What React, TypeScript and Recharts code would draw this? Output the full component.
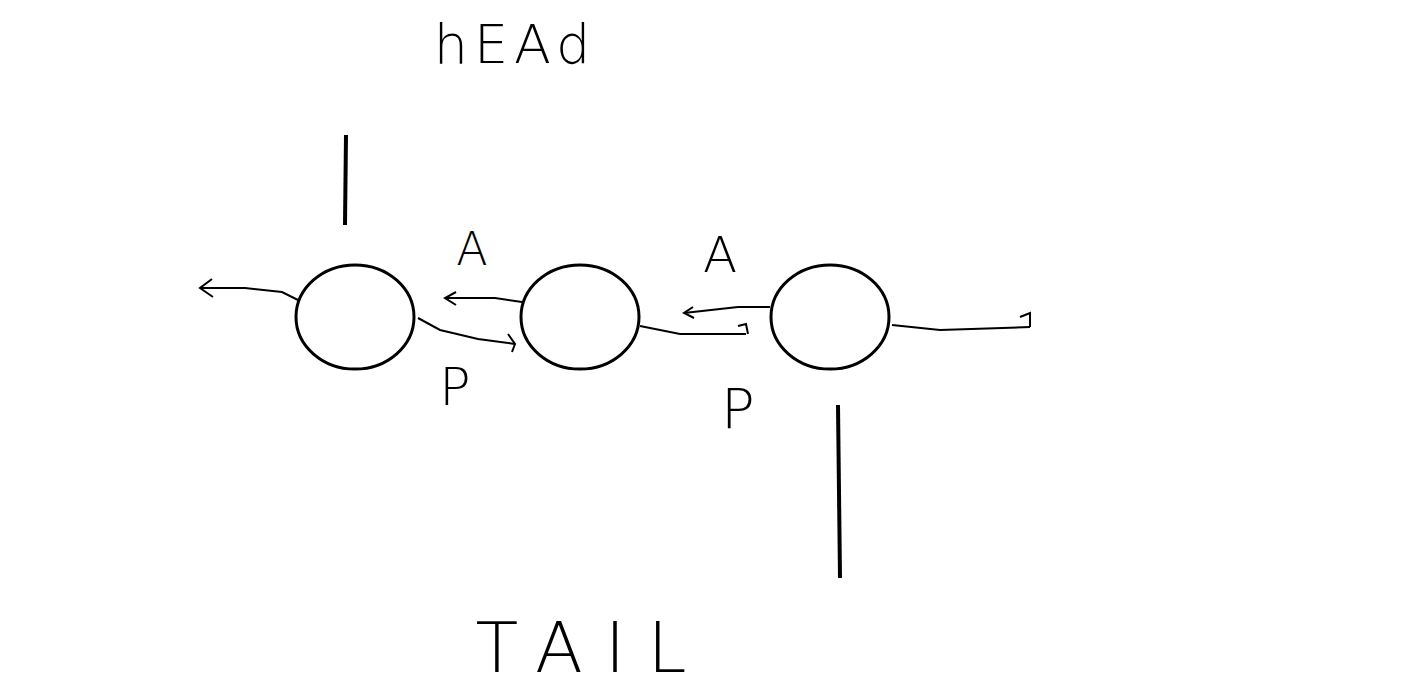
import { ScatterChart, Scatter, XAxis, YAxis } from "recharts";

const W = 1417;
const H = 693;

// node centres
const nodes = [
  { x: 355, y: 317 },
  { x: 580, y: 317 },
  { x: 830, y: 317 },
];

// pointer strokes (head / tail)
const headPointer = [
  { x: 346, y: 135 },
  { x: 345, y: 225 },
];
const tailPointer = [
  { x: 838, y: 405 },
  { x: 840, y: 578 },
];

// link curves with their arrow heads
const links = [
  [{ x: 302, y: 302 }, { x: 282, y: 292 }, { x: 245, y: 288 }, { x: 200, y: 288 }],
  [{ x: 212, y: 279 }, { x: 200, y: 288 }, { x: 213, y: 297 }],
  [{ x: 418, y: 318 }, { x: 440, y: 330 }, { x: 478, y: 339 }, { x: 515, y: 344 }],
  [{ x: 508, y: 334 }, { x: 515, y: 344 }, { x: 512, y: 352 }],
  [{ x: 522, y: 302 }, { x: 495, y: 298 }, { x: 445, y: 298 }],
  [{ x: 456, y: 292 }, { x: 445, y: 298 }, { x: 456, y: 305 }],
  [{ x: 640, y: 326 }, { x: 680, y: 334 }, { x: 746, y: 334 }],
  [{ x: 738, y: 326 }, { x: 746, y: 324 }, { x: 748, y: 334 }],
  [{ x: 770, y: 307 }, { x: 738, y: 307 }, { x: 684, y: 313 }],
  [{ x: 693, y: 307 }, { x: 684, y: 313 }, { x: 694, y: 318 }],
  [{ x: 892, y: 325 }, { x: 940, y: 330 }, { x: 1030, y: 327 }],
  [{ x: 1020, y: 317 }, { x: 1030, y: 313 }, { x: 1030, y: 327 }],
];

// hand-written labels
const labels = [
  { x: 515, y: 63, text: "hEAd", size: 54, spacing: 6 },
  { x: 472, y: 265, text: "A", size: 46, spacing: 0 },
  { x: 720, y: 272, text: "A", size: 50, spacing: 0 },
  { x: 455, y: 405, text: "P", size: 52, spacing: 0 },
  { x: 738, y: 428, text: "P", size: 56, spacing: 0 },
  { x: 592, y: 672, text: "TAIL", size: 70, spacing: 22 },
];

const none = () => <g />;

export default function App() {
  return (
    <div style={{ position: "absolute", left: 0, top: 0, background: "#fff" }}>
      <ScatterChart width={W} height={H} margin={{ top: 0, right: 0, bottom: 0, left: 0 }}>
        <XAxis type="number" dataKey="x" domain={[0, W]} hide />
        <YAxis type="number" dataKey="y" domain={[0, H]} reversed hide />
        <Scatter
          data={headPointer}
          line={{ stroke: "#000", strokeWidth: 4 }}
          shape={none}
          isAnimationActive={false}
        />
        <Scatter
          data={tailPointer}
          line={{ stroke: "#000", strokeWidth: 4 }}
          shape={none}
          isAnimationActive={false}
        />
        {links.map((seg, i) => (
          <Scatter
            key={i}
            data={seg}
            line={{ stroke: "#000", strokeWidth: 2 }}
            shape={none}
            isAnimationActive={false}
          />
        ))}
        <Scatter
          data={nodes}
          isAnimationActive={false}
          shape={(p: any) => (
            <ellipse cx={p.cx} cy={p.cy} rx={59} ry={52} fill="#fff" stroke="#000" strokeWidth={3} />
          )}
        />
        <Scatter
          data={labels}
          isAnimationActive={false}
          shape={(p: any) => (
            <text
              x={p.cx}
              y={p.cy}
              textAnchor="middle"
              fontFamily="DejaVu Sans"
              fontWeight={200}
              fontSize={p.payload.size}
              letterSpacing={p.payload.spacing}
              fill="#000"
            >
              {p.payload.text}
            </text>
          )}
        />
      </ScatterChart>
    </div>
  );
}
